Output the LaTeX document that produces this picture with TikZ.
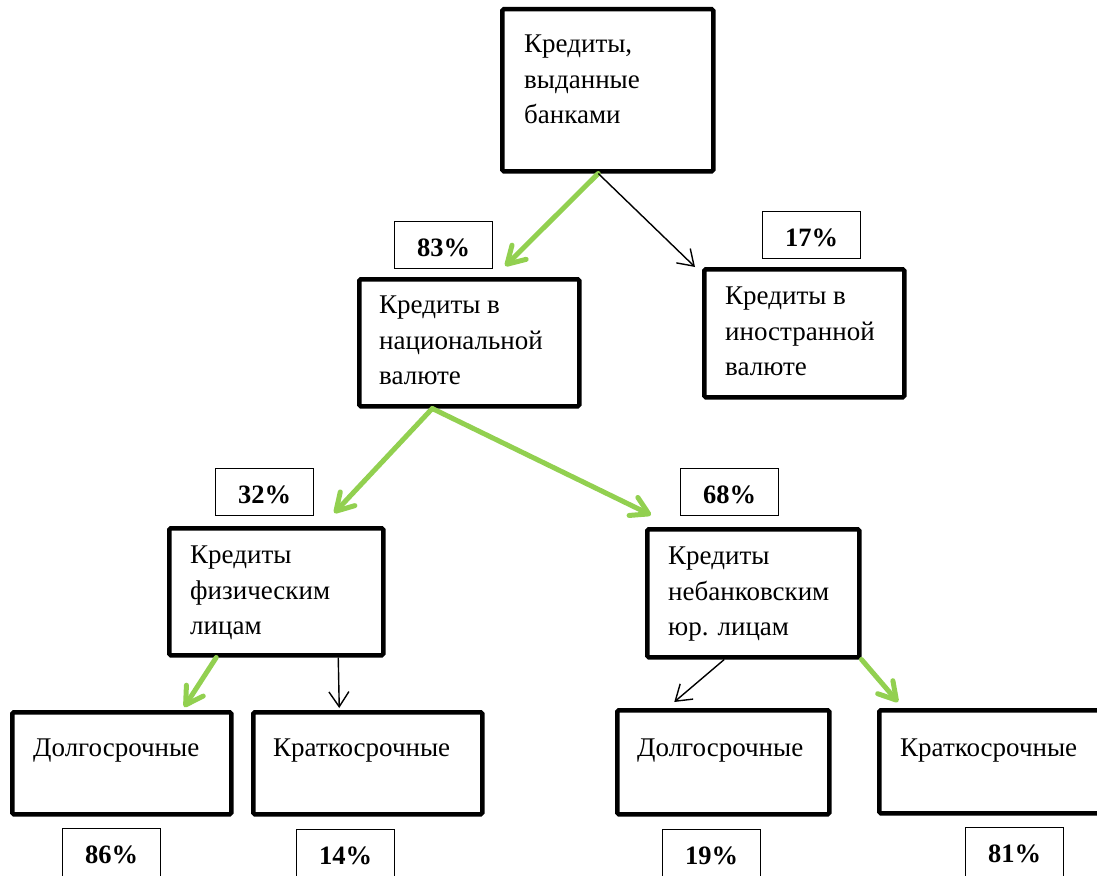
\documentclass[tikz,border=0pt]{standalone}
\usepackage{fontspec}
\setmainfont{Liberation Serif}
\usetikzlibrary{arrows.meta,calc}
\definecolor{lgreen}{RGB}{146,208,80}
\begin{document}
\begin{tikzpicture}[x=1pt,y=-1pt,
  box/.style={draw,line width=4.5pt,rounded corners=1.5pt,inner sep=0pt,anchor=north west},
  pct/.style={draw,line width=1.2pt,inner xsep=0pt,inner ysep=0pt,anchor=north west,
    minimum width=98pt,text height=35pt,text depth=12pt,
    font=\fontsize{26.5}{30}\selectfont\bfseries},
  pctcut/.style={pct,text depth=60pt},
  txt/.style={inner sep=0pt,anchor=north west,align=left,font=\fontsize{27}{35.5}\selectfont},
  garrow/.style={draw=lgreen,line width=5pt,line cap=round,
    -{Straight Barb[length=17pt,width=20pt,round]}},
  barrow/.style={draw=black,line width=1.4pt,
    -{Straight Barb[length=15pt,width=20pt]}}]
\clip (0,0) rectangle (1097,875);
% main boxes
\node[box,minimum width=211pt,minimum height=162pt] (top) at (500,7) {};
\node[box,minimum width=220pt,minimum height=127pt] (nat) at (357,277) {};
\node[box,minimum width=200pt,minimum height=128pt] (for) at (702,267) {};
\node[box,minimum width=214pt,minimum height=127pt] (phys) at (167,526) {};
\node[box,minimum width=212pt,minimum height=128pt] (jur) at (645,527) {};
\node[box,minimum width=219pt,minimum height=102pt] (b1) at (10,710) {};
\node[box,minimum width=229pt,minimum height=102pt] (b2) at (251,710) {};
\node[box,minimum width=212pt,minimum height=104pt] (b3) at (615,708) {};
\node[box,minimum width=235pt,minimum height=103pt] (b4) at (877,708) {};
% texts
\node[txt] (ttop) at (524,35) {Кредиты,\\выданные\\банками};
\node[txt] (tnat) at (379,296) {Кредиты в\\национальной\\валюте};
\node[txt] (tfor) at (725,287) {Кредиты в\\иностранной\\валюте};
\node[txt] (tphys) at (190,546) {Кредиты\\физическим\\лицам};
\node[txt] (tjur) at (668,547) {Кредиты\\небанковским\\юр. лицам};
\node[txt] (tb1) at (33,739) {Долгосрочные};
\node[txt] (tb2) at (273,739) {Краткосрочные};
\node[txt] (tb3) at (637,739) {Долгосрочные};
\node[txt] (tb4) at (900,739) {Краткосрочные};
% percent boxes
\node[pct] (p83) at (394,221) {83\%};
\node[pct] (p17) at (762,211) {17\%};
\node[pct] (p32) at (215,468) {32\%};
\node[pct] (p68) at (680,468) {68\%};
\node[pctcut] (p86) at (62,828) {86\%};
\node[pctcut] (p14) at (296,829) {14\%};
\node[pctcut] (p19) at (662,829) {19\%};
\node[pctcut] (p81) at (965,827) {81\%};
% connectors
\draw[garrow] ($(top.south)+(-9.5,0)$) -- ($(nat.north)+(36,-11)$);
\draw[barrow] ($(top.south)+(-9.5,0)$) -- ($(for.north west)+(-7,0)$);
\draw[garrow] ($(nat.south)+(-37,0)$) -- ($(phys.north)+(58,-13)$);
\draw[garrow] ($(nat.south)+(-37,0)$) -- ($(jur.north west)+(6,-12)$);
\draw[garrow] ($(phys.south)+(-60,0)$) -- ($(b1.north)+(62.5,-3)$);
\draw[barrow] ($(phys.south)+(62,0)$) -- ($(b2.north)+(-28.5,-2)$);
\draw[barrow] ($(jur.south)+(-29,0)$) -- ($(b3.north)+(-49,-6)$);
\draw[garrow] (jur.south east) -- ($(b4.north west)+(21,-6)$);
\end{tikzpicture}
\end{document}
